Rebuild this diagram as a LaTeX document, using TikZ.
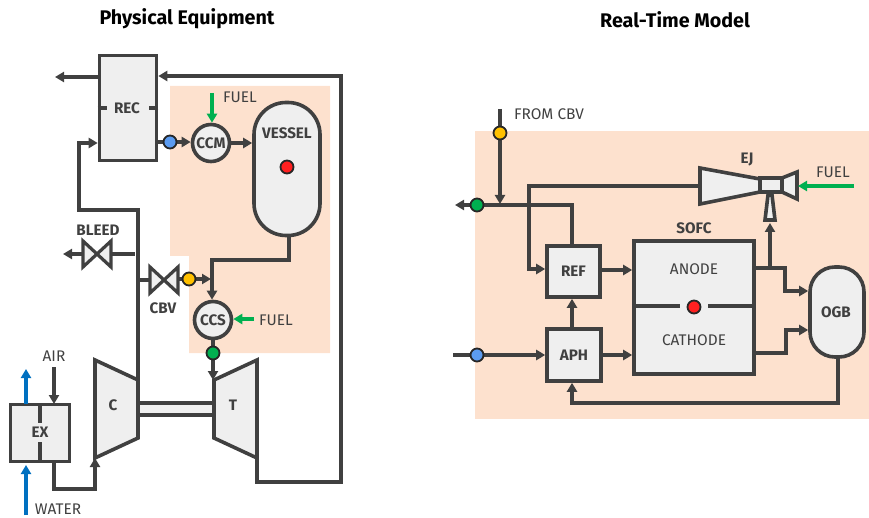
\documentclass[tikz,border=0pt]{standalone}
\usepackage{fontspec}
\setmainfont{Fira Sans}
\usetikzlibrary{arrows.meta,calc}
\definecolor{ink}{HTML}{404040}
\definecolor{boxfill}{HTML}{EFEFEF}
\definecolor{peach}{HTML}{FDE1CE}
\definecolor{gflow}{HTML}{00B050}
\definecolor{bflow}{HTML}{0070C0}
\definecolor{dotblue}{HTML}{5B9BF0}
\definecolor{dotyellow}{HTML}{FFC000}
\definecolor{dotred}{HTML}{FF2020}
\pgfdeclarelayer{peachlayer}
\pgfdeclarelayer{wirelayer}
\pgfsetlayers{peachlayer,wirelayer,main}
\tikzset{
  x=1pt,y=-1pt,
  tip/.style={-{Triangle[length=9pt,width=10pt]}},
  wire/.style={draw=ink,line width=3.2pt,line join=miter},
  flowg/.style={wire,draw=gflow,tip},
  flowb/.style={wire,draw=bflow,tip},
  equip/.style={draw=ink,fill=boxfill,line width=3.6pt,inner sep=0pt,align=center,text=ink,font=\fontsize{15.2}{17}\selectfont\bfseries},
  boxn/.style={equip,rectangle},
  roundn/.style={equip,circle,minimum size=37pt},
  dotn/.style={circle,draw=black!85,line width=1.8pt,minimum size=13pt,inner sep=0pt},
  lab/.style={text=ink,inner sep=0pt,font=\fontsize{15.4}{17}\selectfont},
  blab/.style={text=ink,inner sep=0pt,font=\fontsize{15.2}{17}\selectfont\bfseries},
  titlen/.style={text=black,inner sep=0pt,font=\fontsize{19.7}{22}\selectfont\bfseries},
  shapeline/.style={draw=ink,fill=boxfill,line width=3.6pt,line join=miter},
}
\begin{document}
\begin{tikzpicture}
\useasboundingbox (0,0) rectangle (869,518);
\begin{pgfonlayer}{peachlayer}
  \fill[peach] (170,86) -- (330,86) -- (330,353) -- (189,353) -- (189,256) -- (170,256) -- cycle;
  \fill[peach] (475,131) rectangle (869,419);
\end{pgfonlayer}

\node[titlen] (title1) at (187,19) {Physical Equipment};
\node[titlen] (title2) at (675,20) {Real-Time Model};

% ---------- physical equipment: shapes
\node[boxn,minimum width=57pt,minimum height=105pt] (rec) at (128,108) {};
\draw[draw=ink,line width=3.2pt] (rec.west |- 0,108) -- +(9,0) (rec.east |- 0,108) -- +(-9,0);
\node[blab] (reclab) at (127,108) {REC};
\node[roundn] (ccm) at (211,143) {CCM};
\node[roundn] (ccs) at (213,320) {CCS};
\node[boxn,minimum width=66pt,minimum height=133pt,rounded corners=32pt] (vessel) at (287,169) {};
\node[blab] (vessellab) at (287,133) {VESSEL};
\node[dotn,fill=dotred] (vdot) at (287,167) {};
\node[dotn,fill=dotblue] (bdot1) at (170,142) {};
\node[dotn,fill=dotyellow] (ydot1) at (189,279) {};
\node[dotn,fill=gflow] (gdot1) at (213,353) {};
\node[boxn,minimum width=59pt,minimum height=57pt] (ex) at (40,433) {};
\draw[draw=ink,line width=3.2pt] (40,404) -- (40,423) (40,442) -- (40,462);
\node[blab] (exlab) at (40,432) {EX};

% compressor, turbine
\draw[shapeline] (95,360) coordinate (cA) -- (138,380) coordinate (cB) -- (138,438) -- (95,458) coordinate (cD) -- cycle;
\draw[shapeline] (214,380) coordinate (tA) -- (257,360) -- (257,458) coordinate (tC) -- (214,438) -- cycle;
\node[blab] (clab) at (113,405) {C};
\node[blab] (tlab) at (233,405) {T};
\draw[draw=ink,fill=boxfill,line width=3.2pt] (138,403) coordinate (sA) rectangle (214,415);

% valves
\draw[shapeline,line width=3.2pt] (83,241) -- (111,267) -- (111,241) -- (83,267) -- cycle;
\coordinate (bleedL) at (83,254);
\coordinate (bleedR) at (111,254);
\draw[shapeline,line width=3.2pt] (150,267) -- (178,293) -- (178,267) -- (150,293) -- cycle;
\coordinate (cbvL) at (150,280);
\coordinate (cbvR) at (178,279);
\node[blab] (bleedlab) at (98,230) {BLEED};
\node[blab] (cbvlab) at (163,308) {CBV};

% labels
\node[lab] (fuel1) at (240,97) {FUEL};
\node[lab] (fuel2) at (276,320) {FUEL};
\node[lab] (air) at (54,356) {AIR};
\node[lab] (water) at (58,509) {WATER};

% free ends
\coordinate (recOut) at (55,77);
\coordinate (bleedOut) at (63,254);
\coordinate (bleedEnd) at (135,254);
\coordinate (f1s) at (212,93);
\coordinate (f2s) at (254,319);
\coordinate (airS) at (54,367);
\coordinate (wS) at (26,515);
\coordinate (wO) at (26,369);
\coordinate (jn) at (212,260);

\begin{pgfonlayer}{wirelayer}
  \draw[wire,tip] (rec.west |- recOut) -- (recOut);
  \draw[wire,tip] (tC) -- (257,482) -- (341,482) -- (341,76) -- (rec.east |- 0,76);
  \draw[wire,tip] (rec.east |- bdot1) -- (bdot1) -- (ccm.west |- bdot1);
  \draw[wire,tip] (ccm.east) -- (vessel.west |- ccm);
  \draw[wire,tip] (cB) -- (138,210) -- (79,210) -- (79,143) -- (rec.west |- 0,143);
  \draw[wire,tip] (bleedL) -- (bleedOut);
  \draw[wire] (bleedR) -- (bleedEnd);
  \draw[wire] (138,280) -- (cbvL);
  \draw[wire,tip] (cbvR) -- (ydot1) -- (211,279);
  \draw[wire,tip] (289,236) -- (289,260) -- (jn) -- (ccs.north -| jn);
  \draw[wire,tip] (ccs.south) -- (gdot1) -- (213,380);
  \draw[wire,tip] (airS) -- (54,404);
  \draw[wire,tip] (54,462) -- (54,489) -- (95,489) -- (cD);
\end{pgfonlayer}
\draw[flowg] (f1s) -- (ccm.north -| f1s);
\draw[flowg] (f2s) -- (ccs.east |- f2s);
\draw[flowb] (wS) -- (26,465);
\draw[flowb] (26,404) -- (wO);

% ---------- real-time model: shapes
\node[boxn,minimum width=53pt,minimum height=51pt] (ref) at (573.5,271.5) {REF};
\node[boxn,minimum width=54pt,minimum height=52pt] (aph) at (574,355) {APH};
\node[boxn,minimum width=120pt,minimum height=133pt] (sofc) at (694,307.5) {};
\node[blab] (sofclab) at (694,228) {SOFC};
\draw[draw=ink,line width=3.2pt] (sofc.west |- 0,306) -- (680,306) (708,306) -- (sofc.east |- 0,306);
\node[lab] (anode) at (694,269) {ANODE};
\node[lab] (cathode) at (694,340) {CATHODE};
\node[dotn,fill=dotred] (sdot) at (694,307) {};
\node[boxn,minimum width=54pt,minimum height=90pt,rounded corners=25pt] (ogb) at (837,312) {};
\node[blab] (ogblab) at (836,312) {OGB};
\node[dotn,fill=dotyellow] (ydot2) at (500,133) {};
\node[dotn,fill=gflow] (gdot2) at (477,205) {};
\node[dotn,fill=dotblue] (bdot2) at (477,355) {};
\node[lab] (fromcbv) at (549,114) {FROM CBV};
\node[lab] (fuel3) at (833,172) {FUEL};
\node[blab] (ejlab) at (747,160) {EJ};

% ejector
\draw[shapeline] (700,168) coordinate (ejA) -- (760,179) -- (760,192) -- (700,204) coordinate (ejB) -- cycle;
\draw[shapeline] (782,178) -- (797,172) coordinate (noz) -- (797,199) -- (782,192) -- cycle;
\draw[shapeline] (760,178) rectangle (782,192);
\draw[shapeline] (765,220) -- (775,220) -- (772,195) -- (768,195) -- cycle;
\coordinate (ejIn) at (700,186);
\coordinate (ejSuc) at (770,223);
\coordinate (ejFuel) at (798,186);
\coordinate (f3s) at (854,186);
\coordinate (cbvS) at (500,109);
\coordinate (hotOut) at (455,205);
\coordinate (airIn) at (453,355);

\begin{pgfonlayer}{wirelayer}
  \draw[wire,tip] (cbvS) -- (ydot2) -- (500,204);
  \draw[wire,tip] (gdot2) -- (hotOut);
  \draw[wire] (gdot2) -- (572,205) -- (ref.north -| 572,0);
  \draw[wire,tip] (ejIn) -- (529,186) -- (529,269) -- (ref.west |- 0,269);
  \draw[wire,tip] (ref.east |- 0,270) -- (sofc.west |- 0,270);
  \draw[wire,tip] (aph.north -| 572,0) -- (ref.south -| 572,0);
  \draw[wire,tip] (airIn) -- (bdot2) -- (aph.west |- bdot2);
  \draw[wire,tip] (aph.east |- 0,355) -- (sofc.west |- 0,355);
  \draw[wire,tip] (sofc.east |- 0,268) -- (785,268) -- (785,291) -- (ogb.west |- 0,291);
  \draw[wire,tip] (sofc.east |- 0,353) -- (786,353) -- (786,330) -- (ogb.west |- 0,330);
  \draw[wire,tip] (770,268) -- (ejSuc);
  \draw[wire,tip] (838,357) -- (838,403) -- (572,403) -- (aph.south -| 572,0);
\end{pgfonlayer}
\draw[flowg] (f3s) -- (ejFuel);
\end{tikzpicture}
\end{document}
